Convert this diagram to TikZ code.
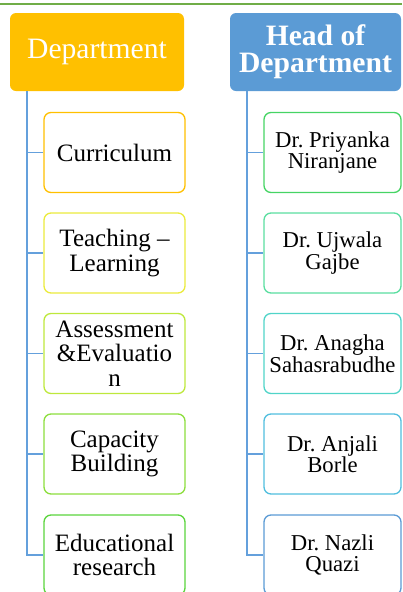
\documentclass[tikz,border=0pt]{standalone}
\usepackage{fontspec}
\setmainfont{Liberation Serif}
\frenchspacing
\begin{document}
\begin{tikzpicture}[x=1pt,y=1pt,
  head/.style={rounded corners=6pt, draw=none, minimum height=78pt, text=white, inner sep=0pt, align=center},
  leftbox/.style={rounded corners=7pt, line width=1.3pt, fill=white, minimum width=141pt, minimum height=80pt, inner sep=0pt, align=center, font=\fontsize{25}{24.5}\selectfont},
  rightbox/.style={rounded corners=7pt, line width=1.3pt, fill=white, minimum width=137pt, minimum height=80pt, inner sep=0pt, align=center, font=\fontsize{22.7}{21.5}\selectfont},
  conn/.style={draw=connblue, line width=1.4pt}
]
\definecolor{topgreen}{RGB}{112,173,71}
\definecolor{deporange}{RGB}{255,192,0}
\definecolor{headblue}{RGB}{91,155,213}
\definecolor{connblue}{RGB}{100,160,220}
\definecolor{cA}{RGB}{255,192,0}
\definecolor{cB}{RGB}{235,235,60}
\definecolor{cC}{RGB}{190,232,60}
\definecolor{cD}{RGB}{140,222,60}
\definecolor{cE}{RGB}{90,212,60}
\definecolor{rA}{RGB}{70,212,100}
\definecolor{rB}{RGB}{90,222,160}
\definecolor{rC}{RGB}{80,212,200}
\definecolor{rD}{RGB}{80,190,222}
\definecolor{rE}{RGB}{91,155,213}
\useasboundingbox (0,0) rectangle (402,-592);
\clip (0,0) rectangle (402,-592);
\draw[topgreen, line width=1.5pt] (0,-4) -- (402,-4);

\node[head, fill=deporange, minimum width=174pt, font=\fontsize{29.6}{27}\selectfont] (dep) at (97,-52) {\raisebox{-2pt}{Department}};
\node[head, fill=headblue, minimum width=171pt, font=\fontsize{29.6}{27}\selectfont\bfseries] (hod) at (315.5,-52) {Head of\\Department};

\coordinate (dl) at (27,-91);
\coordinate (hl) at (247,-91);

\node[leftbox, draw=cA] (c1) at (114.5,-152.5) {Curriculum};
\node[leftbox, draw=cB] (c2) at (114.5,-253) {Teaching --\\Learning};
\node[leftbox, draw=cC] (c3) at (114.5,-353.5) {Assessment\\\&Evaluatio\\n};
\node[leftbox, draw=cD] (c4) at (114.5,-454) {Capacity\\Building};
\node[leftbox, draw=cE] (c5) at (114.5,-555) {Educational\\research};

\node[rightbox, draw=rA] (r1) at (332.5,-152.5) {Dr. Priyanka\\Niranjane};
\node[rightbox, draw=rB] (r2) at (332.5,-253) {Dr. Ujwala\\Gajbe};
\node[rightbox, draw=rC] (r3) at (332.5,-353.5) {Dr. Anagha\\Sahasrabudhe};
\node[rightbox, draw=rD] (r4) at (332.5,-454) {Dr. Anjali\\Borle};
\node[rightbox, draw=rE] (r5) at (332.5,-555) {Dr. Nazli\\Quazi};

\foreach \n in {c1,c2,c3,c4,c5} \draw[conn] (dl) |- (\n.west);
\foreach \n in {r1,r2,r3,r4,r5} \draw[conn] (hl) |- (\n.west);
\end{tikzpicture}
\end{document}
